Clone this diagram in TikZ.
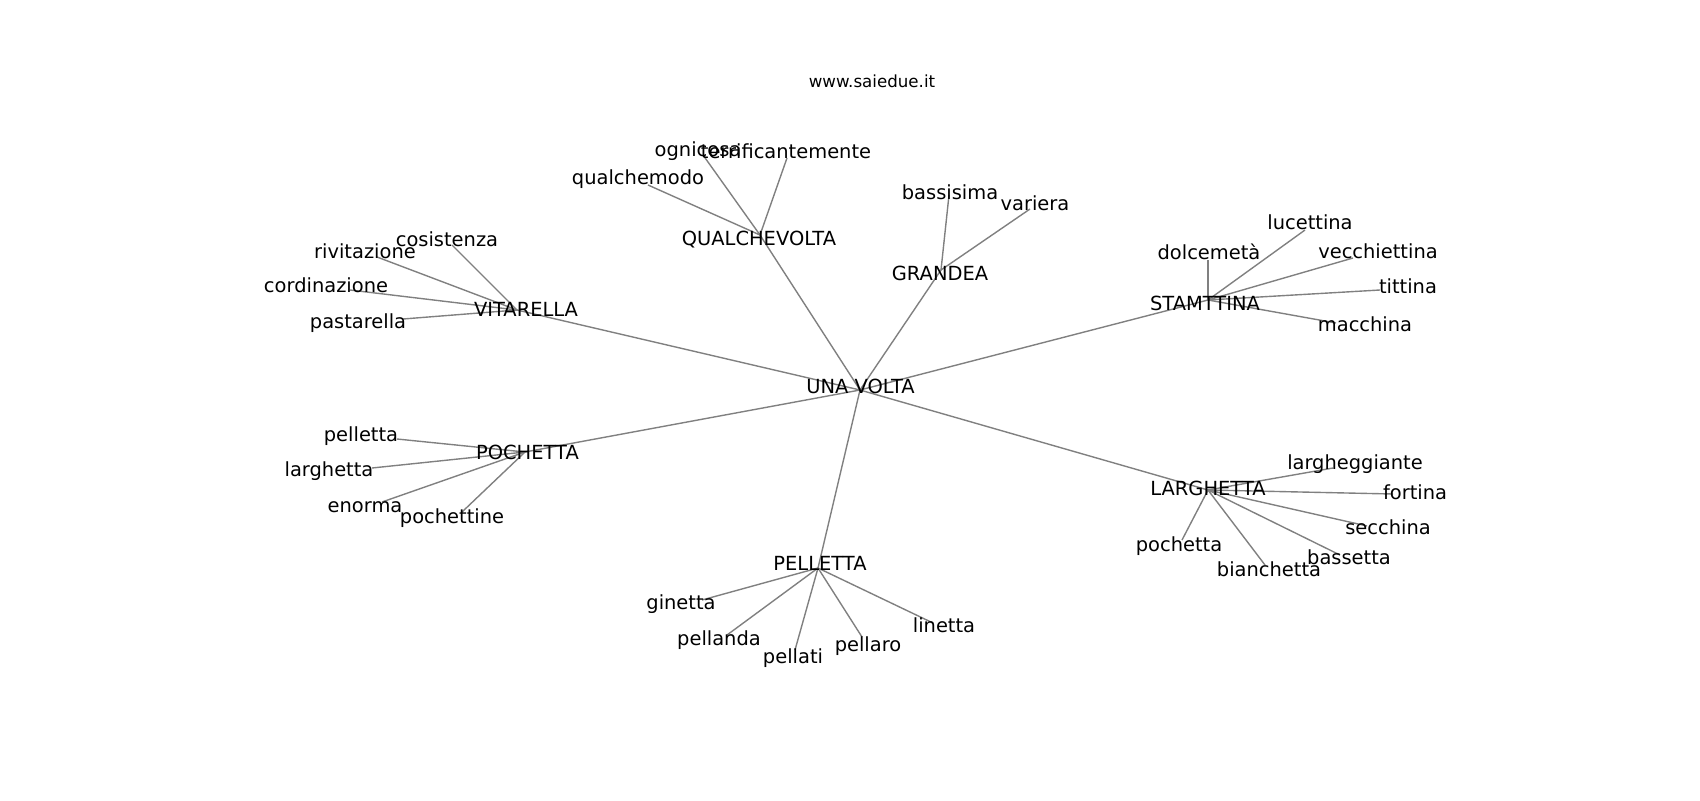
\documentclass[tikz,border=0pt]{standalone}
\usepackage{fontspec}
\setmainfont{DejaVu Sans}
\begin{document}
\begin{tikzpicture}[x=0.72pt, y=-0.72pt,
  lbl/.style={inner sep=0pt, outer sep=0pt, text height=10.64pt, text depth=3.36pt,
              font=\fontsize{14}{16}\selectfont, text=black},
  ttl/.style={inner sep=0pt, outer sep=0pt, text height=9.12pt, text depth=2.88pt,
              font=\fontsize{12}{14}\selectfont, text=black},
  edge/.style={draw=gray, line width=1pt}]
\useasboundingbox (0,0) rectangle (1700,800);
\fill[white] (0,0) rectangle (1700,800);

% ---- node positions (edge end points) ----
\coordinate (una)   at (860,390);
\coordinate (vit)   at (517,310);
\coordinate (qual)  at (760,235);
\coordinate (grand) at (941,270);
\coordinate (stam)  at (1208,300);
\coordinate (poch)  at (525,452);
\coordinate (larg)  at (1208,490);
\coordinate (pell)  at (818,568);

\coordinate (ognicosa)     at (703,155);
\coordinate (terrific)     at (787,158);
\coordinate (qualchemodo)  at (648,185);
\coordinate (bassisima)    at (949,195);
\coordinate (variera)      at (1030,209);
\coordinate (dolcemeta)    at (1208,260);
\coordinate (lucettina)    at (1305,230);
\coordinate (vecchiettina) at (1353,258);
\coordinate (tittina)      at (1380,290);
\coordinate (macchina)     at (1336,323);
\coordinate (cosistenza)   at (452,245);
\coordinate (rivitazione)  at (377,257);
\coordinate (cordinazione) at (350,290);
\coordinate (pastarella)   at (403,319);
\coordinate (pelletta)     at (397,439);
\coordinate (larghetta)    at (372,468);
\coordinate (enorma)       at (382,502);
\coordinate (pochettine)   at (462,512);
\coordinate (largheggiante) at (1333,468);
\coordinate (fortina)      at (1393,494);
\coordinate (secchina)     at (1367,526);
\coordinate (bassetta)     at (1340,555);
\coordinate (bianchetta)   at (1265,565);
\coordinate (pochetta)     at (1182,540);
\coordinate (ginetta)      at (702,600);
\coordinate (pellanda)     at (727,635);
\coordinate (pellati)      at (795,650);
\coordinate (pellaro)      at (862,637);
\coordinate (linetta)      at (933,623);

% ---- edges ----
\foreach \h in {vit,qual,grand,stam,poch,larg,pell} \draw[edge] (una) -- (\h);
\foreach \l in {ognicosa,terrific,qualchemodo} \draw[edge] (qual) -- (\l);
\foreach \l in {bassisima,variera} \draw[edge] (grand) -- (\l);
\foreach \l in {dolcemeta,lucettina,vecchiettina,tittina,macchina} \draw[edge] (stam) -- (\l);
\foreach \l in {cosistenza,rivitazione,cordinazione,pastarella} \draw[edge] (vit) -- (\l);
\foreach \l in {pelletta,larghetta,enorma,pochettine} \draw[edge] (poch) -- (\l);
\foreach \l in {largheggiante,fortina,secchina,bassetta,bianchetta,pochetta} \draw[edge] (larg) -- (\l);
\foreach \l in {ginetta,pellanda,pellati,pellaro,linetta} \draw[edge] (pell) -- (\l);

% ---- labels ----
\node[ttl] (title) at (872,83) {www.saiedue.it};

\node[lbl] (una-t)   at (860.5,388) {UNA VOLTA};
\node[lbl] (vit-t)   at (526,311)   {VITARELLA};
\node[lbl] (qual-t)  at (759,240)   {QUALCHEVOLTA};
\node[lbl] (grand-t) at (940,275)   {GRANDEA};
\node[lbl] (stam-t)  at (1205,305)  {STAMTTINA};
\node[lbl] (poch-t)  at (527.5,454) {POCHETTA};
\node[lbl] (larg-t)  at (1208,490)  {LARGHETTA};
\node[lbl] (pell-t)  at (820,565)   {PELLETTA};

\node[lbl] (ognicosa-t)     at (698,151)  {ognicosa};
\node[lbl] (terrific-t)     at (786,153)  {terrificantemente};
\node[lbl] (qualchemodo-t)  at (638,179)  {qualchemodo};
\node[lbl] (bassisima-t)    at (950,194)  {bassisima};
\node[lbl] (variera-t)      at (1035,205) {variera};
\node[lbl] (dolcemeta-t)    at (1209,254) {dolcemetà};
\node[lbl] (lucettina-t)    at (1310,224) {lucettina};
\node[lbl] (vecchiettina-t) at (1378,253) {vecchiettina};
\node[lbl] (tittina-t)      at (1408,288) {tittina};
\node[lbl] (macchina-t)     at (1365,326) {macchina};
\node[lbl] (cosistenza-t)   at (447,241)  {cosistenza};
\node[lbl] (rivitazione-t)  at (365,253)  {rivitazione};
\node[lbl] (cordinazione-t) at (326,287)  {cordinazione};
\node[lbl] (pastarella-t)   at (358,323)  {pastarella};
\node[lbl] (pelletta-t)     at (361,436)  {pelletta};
\node[lbl] (larghetta-t)    at (329,471)  {larghetta};
\node[lbl] (enorma-t)       at (365,507)  {enorma};
\node[lbl] (pochettine-t)   at (452,518)  {pochettine};
\node[lbl] (largheggiante-t) at (1355,464) {largheggiante};
\node[lbl] (fortina-t)      at (1415,494) {fortina};
\node[lbl] (secchina-t)     at (1388,529) {secchina};
\node[lbl] (bassetta-t)     at (1349,559) {bassetta};
\node[lbl] (bianchetta-t)   at (1269,571) {bianchetta};
\node[lbl] (pochetta-t)     at (1179,546) {pochetta};
\node[lbl] (ginetta-t)      at (681,604)  {ginetta};
\node[lbl] (pellanda-t)     at (719,640)  {pellanda};
\node[lbl] (pellati-t)      at (793,658)  {pellati};
\node[lbl] (pellaro-t)      at (868,646)  {pellaro};
\node[lbl] (linetta-t)      at (944,627)  {linetta};
\end{tikzpicture}
\end{document}
